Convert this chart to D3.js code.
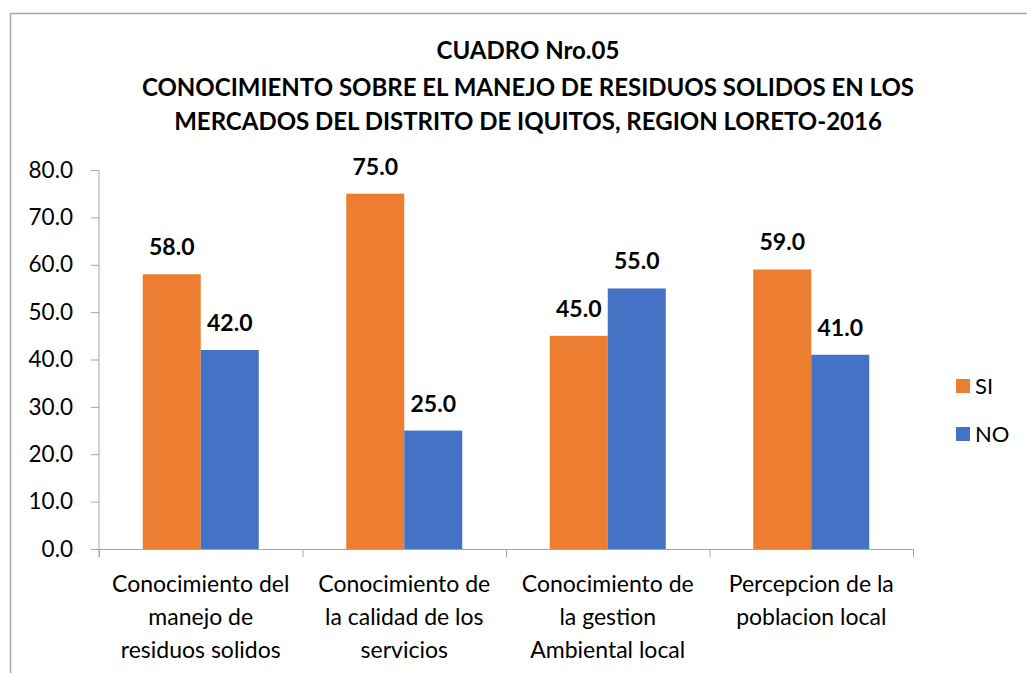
<!DOCTYPE html>
<html>
<head>
<meta charset="utf-8">
<script src="https://cdn.jsdelivr.net/npm/d3@7"></script>
<style>
  body { margin: 0; background: #fff; }
  text { font-family: Lato, "Open Sans", sans-serif; fill: #000; }
</style>
</head>
<body>
<div id="chart"></div>
<script>
// Chart data
var categories = [
  ["Conocimiento del", "manejo de", "residuos solidos"],
  ["Conocimiento de", "la calidad de los", "servicios"],
  ["Conocimiento de", "la gestion", "Ambiental local"],
  ["Percepcion de la", "poblacion local"]
];
var seriesNames = ["SI", "NO"];
var siValues = [58.0, 75.0, 45.0, 59.0];
var noValues = [42.0, 25.0, 55.0, 41.0];
var yTicks = [0, 10, 20, 30, 40, 50, 60, 70, 80];
var titleLines = [
  "CUADRO Nro.05",
  "CONOCIMIENTO SOBRE EL MANEJO DE RESIDUOS SOLIDOS EN LOS",
  "MERCADOS DEL DISTRITO DE IQUITOS, REGION LORETO-2016"
];
var colors = ["#ED7D31", "#4472C4"];

var svgWidth = 1027;
var svgHeight = 673;

var margin = { top: 170, left: 99, right: 114, bottom: 124 };
var width = svgWidth - margin.left - margin.right;
var height = svgHeight - margin.top - margin.bottom;

var svg = d3.select("#chart")
  .append("svg")
  .attr("width", svgWidth)
  .attr("height", svgHeight);

// outer frame (only top and left edges are visible in the picture)
svg.append("path")
  .attr("d", "M10.5,673 L10.5,13.5 L1027,13.5")
  .attr("fill", "none")
  .attr("stroke", "#a6a6a6")
  .attr("stroke-width", 1.5);

// title
var titleY = [59, 96, 130];
svg.append("g").selectAll("text")
  .data(titleLines)
  .enter()
  .append("text")
  .attr("x", 528)
  .attr("y", (d, i) => titleY[i])
  .attr("text-anchor", "middle")
  .style("font-size", "24px")
  .style("font-weight", "bold")
  .text(d => d);

var chartGroup = svg.append("g")
  .attr("transform", `translate(${margin.left}, ${margin.top})`);

var data = categories.map((c, i) => ({ idx: i, values: [siValues[i], noValues[i]] }));

var x0 = d3.scaleBand()
  .domain(d3.range(categories.length))
  .range([0, width])
  .paddingInner(0)
  .paddingOuter(0);

var barW = x0.bandwidth() * 0.285;

var x1 = d3.scaleBand()
  .domain(d3.range(seriesNames.length))
  .range([x0.bandwidth() / 2 - barW, x0.bandwidth() / 2 + barW]);

var y = d3.scaleLinear()
  .domain([0, 80])
  .range([height, 0]);

// y axis
var leftAxis = d3.axisLeft(y)
  .tickValues(yTicks)
  .tickSize(8)
  .tickPadding(18)
  .tickFormat(d3.format(".1f"));

var yAxis = chartGroup.append("g").call(leftAxis);
yAxis.select(".domain").attr("stroke", "#a6a6a6").attr("d", `M0,0.5V${height + 8}`);
yAxis.selectAll(".tick line").attr("stroke", "#a6a6a6");
yAxis.selectAll(".tick text")
  .style("font-size", "22.5px")
  .attr("fill", "#000");

// x axis baseline with category ticks
var bounds = d3.range(categories.length + 1).map(i => i * x0.bandwidth());
chartGroup.append("line")
  .attr("x1", 0).attr("x2", width)
  .attr("y1", height + 0.5).attr("y2", height + 0.5)
  .attr("stroke", "#a6a6a6");
chartGroup.selectAll(".xtick")
  .data(bounds)
  .enter()
  .append("line")
  .attr("class", "xtick")
  .attr("x1", d => d + 0.5).attr("x2", d => d + 0.5)
  .attr("y1", height).attr("y2", height + 8)
  .attr("stroke", "#a6a6a6");

// bars
var groups = chartGroup.selectAll(".grp")
  .data(data)
  .enter()
  .append("g")
  .attr("class", "grp")
  .attr("transform", d => `translate(${x0(d.idx)},0)`);

groups.selectAll("rect")
  .data(d => d.values)
  .enter()
  .append("rect")
  .attr("x", (d, i) => x1(i))
  .attr("width", x1.bandwidth())
  .attr("y", d => y(d))
  .attr("height", d => height - y(d))
  .attr("fill", (d, i) => colors[i]);

groups.selectAll(".val")
  .data(d => d.values)
  .enter()
  .append("text")
  .attr("class", "val")
  .attr("x", (d, i) => x1(i) + x1.bandwidth() / 2)
  .attr("y", d => y(d) - 19)
  .attr("text-anchor", "middle")
  .style("font-size", "23px")
  .style("font-weight", "bold")
  .text(d => d.toFixed(1));

// category labels
groups.append("text")
  .attr("text-anchor", "middle")
  .style("font-size", "23px")
  .selectAll("tspan")
  .data(d => categories[d.idx])
  .enter()
  .append("tspan")
  .attr("x", x0.bandwidth() / 2)
  .attr("y", (d, i) => height + 43 + i * 33)
  .text(d => d);

// legend
var legend = svg.append("g")
  .attr("transform", "translate(956, 379)");
var items = legend.selectAll("g")
  .data(seriesNames)
  .enter()
  .append("g")
  .attr("transform", (d, i) => `translate(0, ${i * 48})`);
items.append("rect")
  .attr("width", 14)
  .attr("height", 14)
  .attr("fill", (d, i) => colors[i]);
items.append("text")
  .attr("x", 19)
  .attr("y", 15)
  .style("font-size", "22px")
  .text(d => d);
</script>
</body>
</html>
